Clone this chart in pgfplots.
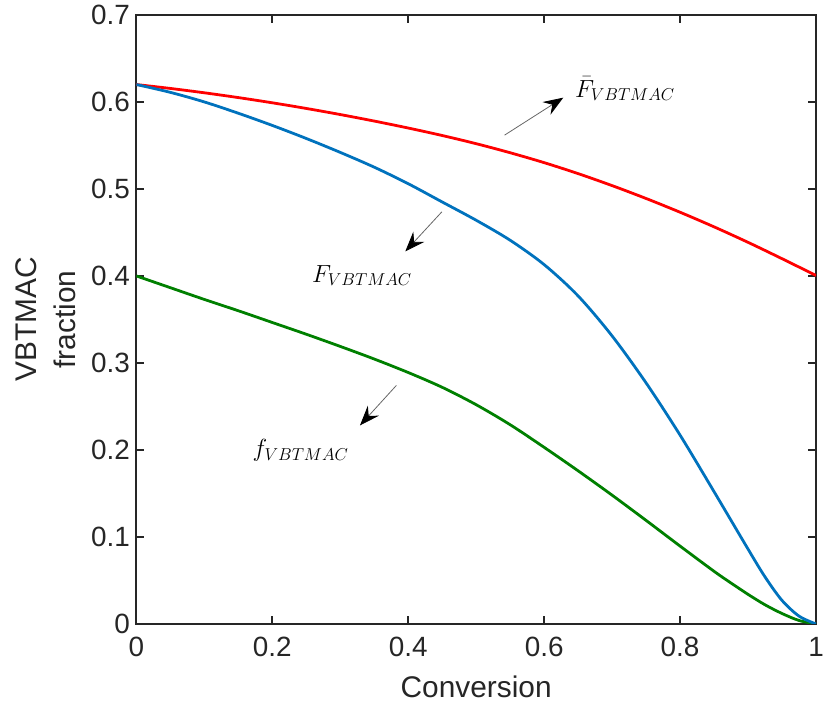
\documentclass[border=0pt]{standalone}
\usepackage{pgfplots}
\pgfplotsset{compat=1.18}
\usepackage{fontspec}
\setmainfont{Liberation Sans}
\usetikzlibrary{arrows.meta}
\definecolor{mred}{RGB}{255,0,0}
\definecolor{mblue}{RGB}{0,114,189}
\definecolor{mgreen}{RGB}{0,128,0}
\definecolor{axgray}{RGB}{38,38,38}
\begin{document}
\begin{tikzpicture}
\begin{axis}[
  scale only axis,
  width=683pt, height=612pt,
  xmin=0, xmax=1, ymin=0, ymax=0.7,
  xtick={0,0.2,0.4,0.6,0.8,1.0}, ytick={0,0.1,0.2,0.3,0.4,0.5,0.6,0.7},
  xticklabels={0,0.2,0.4,0.6,0.8,1},
  yticklabels={0,0.1,0.2,0.3,0.4,0.5,0.6,0.7},
  xtick pos=both, ytick pos=both,
  tick align=inside,
  major tick length=8pt,
  xtick style={line width=2.2pt, draw=axgray},
  ytick style={line width=2.2pt, draw=axgray},
  axis line style={line width=2.2pt, color=axgray},
  ticklabel style={font=\fontsize{28}{32}\selectfont, color=axgray},
  xticklabel style={yshift=-10pt},
  yticklabel style={xshift=-3pt},
  /pgf/number format/assume math mode=true,
  xlabel={Conversion},
  ylabel={VBTMAC\\fraction},
  label style={font=\fontsize{30}{40}\selectfont, color=axgray},
  xlabel style={at={(axis description cs:0.5,0)}, anchor=center, yshift=-63pt},
  ylabel style={at={(axis description cs:-0.1332,0.5)}, anchor=center, align=center},
  clip=true,
]
\addplot[mred, line width=2.8pt, smooth] coordinates {
(0,0.620) (0.05,0.6155) (0.1,0.6105) (0.15,0.605) (0.2,0.599) (0.25,0.5925)
(0.3,0.5855) (0.35,0.578) (0.4,0.570) (0.45,0.5614) (0.5,0.5520) (0.55,0.5416)
(0.6,0.5302) (0.65,0.5176) (0.7,0.5038) (0.75,0.4890) (0.8,0.4732) (0.85,0.4564)
(0.9,0.4386) (0.95,0.4198) (1.0,0.4005)};
\addplot[mgreen, line width=2.8pt, smooth] coordinates {
(0,0.400) (0.05,0.3865) (0.1,0.373) (0.15,0.360) (0.2,0.3465) (0.25,0.333)
(0.3,0.319) (0.35,0.3045) (0.4,0.289) (0.45,0.272) (0.5,0.252) (0.55,0.229)
(0.6,0.203) (0.65,0.176) (0.7,0.148) (0.75,0.119) (0.8,0.0895) (0.85,0.0605)
(0.875,0.047) (0.9,0.034) (0.925,0.022) (0.95,0.012) (0.975,0.004) (1.0,0.0)};
\addplot[mblue, line width=2.8pt, smooth] coordinates {
(0,0.620) (0.05,0.611) (0.1,0.600) (0.15,0.587) (0.2,0.573) (0.25,0.558)
(0.3,0.542) (0.35,0.525) (0.4,0.506) (0.45,0.485) (0.5,0.464) (0.55,0.441)
(0.6,0.413) (0.65,0.377) (0.7,0.331) (0.75,0.277) (0.8,0.217) (0.85,0.152)
(0.9,0.086) (0.925,0.054) (0.95,0.027) (0.975,0.009) (1.0,0.0)};
\draw[draw=black!60, line width=0.8pt, -{Stealth[length=20pt,width=15pt,inset=7pt,black]}]
  (axis cs:0.5417,0.5618) -- (axis cs:0.6281,0.6049);
\draw[draw=black!60, line width=0.8pt, -{Stealth[length=20pt,width=15pt,inset=7pt,black]}]
  (axis cs:0.4495,0.4737) -- (axis cs:0.3957,0.4282);
\draw[draw=black!60, line width=0.8pt, -{Stealth[length=20pt,width=15pt,inset=7pt,black]}]
  (axis cs:0.3826,0.2742) -- (axis cs:0.3290,0.2282);
\node[font=\fontsize{25}{30}\selectfont] at (axis cs:0.7189,0.6150) {$\bar{F}_{VBTMAC}$};
\node[font=\fontsize{25}{30}\selectfont] at (axis cs:0.332,0.4005) {$F_{VBTMAC}$};
\node[font=\fontsize{25}{30}\selectfont] at (axis cs:0.2416,0.1991) {$f_{VBTMAC}$};
\end{axis}
\pgfresetboundingbox
\path[use as bounding box] ([shift={(-137pt,-86pt)}]current axis.south west) rectangle ([shift={(8pt,15pt)}]current axis.north east);
\end{tikzpicture}
\end{document}
